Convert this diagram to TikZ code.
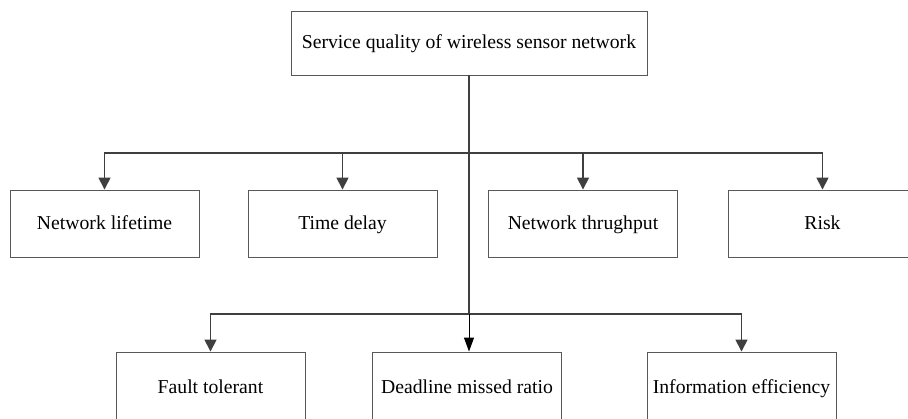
\documentclass[tikz,border=0pt]{standalone}
\usepackage{fontspec}
\setmainfont{Liberation Serif}
\usetikzlibrary{arrows.meta}
\definecolor{linegray}{HTML}{3F3F3F}
\definecolor{boxgray}{HTML}{585858}
\begin{document}
\begin{tikzpicture}[x=1pt,y=-1pt,
    box/.style={draw=boxgray,line width=0.9pt,minimum width=189pt,minimum height=67pt,inner sep=0pt,
      text height=16pt,text depth=4pt,font=\fontsize{19.7}{23}\selectfont},
    trunk/.style={draw=linegray,line width=1.6pt},
    link/.style={trunk,-{Triangle[width=12pt,length=12pt]}},
    thinlink/.style={draw=black,line width=1pt,-{Triangle[width=10pt,length=14pt]}}]
  \clip (0,0) rectangle (908,419);
  % root
  \node[box,minimum width=356pt,minimum height=64pt] (wsn) at (469,43) {Service quality of wireless sensor network};
  % first level
  \node[box] (life) at (104.5,223.5) {Network lifetime};
  \node[box] (delay) at (342.5,223.5) {Time delay};
  \node[box] (thru) at (583,223.5) {Network thrughput};
  \node[box] (risk) at (822.5,223.5) {Risk};
  % second level
  \node[box,minimum height=72pt] (fault) at (210.5,388) {Fault tolerant};
  \node[box,minimum height=72pt] (dead) at (467,388) {Deadline missed ratio};
  \node[box,minimum height=72pt] (info) at (741.5,388) {Information efficiency};
  % buses
  \coordinate (busa) at (wsn.south |- 0,153);
  \coordinate (busb) at (wsn.south |- 0,314);
  \draw[trunk] (wsn.south) -- (busb);
  \foreach \n in {life,delay,thru,risk}
    \draw[link] (busa) -| (\n);
  \foreach \n in {fault,info}
    \draw[link] (busb) -| (\n);
  \draw[thinlink] (busb) -- (busb |- dead.north);
\end{tikzpicture}
\end{document}
